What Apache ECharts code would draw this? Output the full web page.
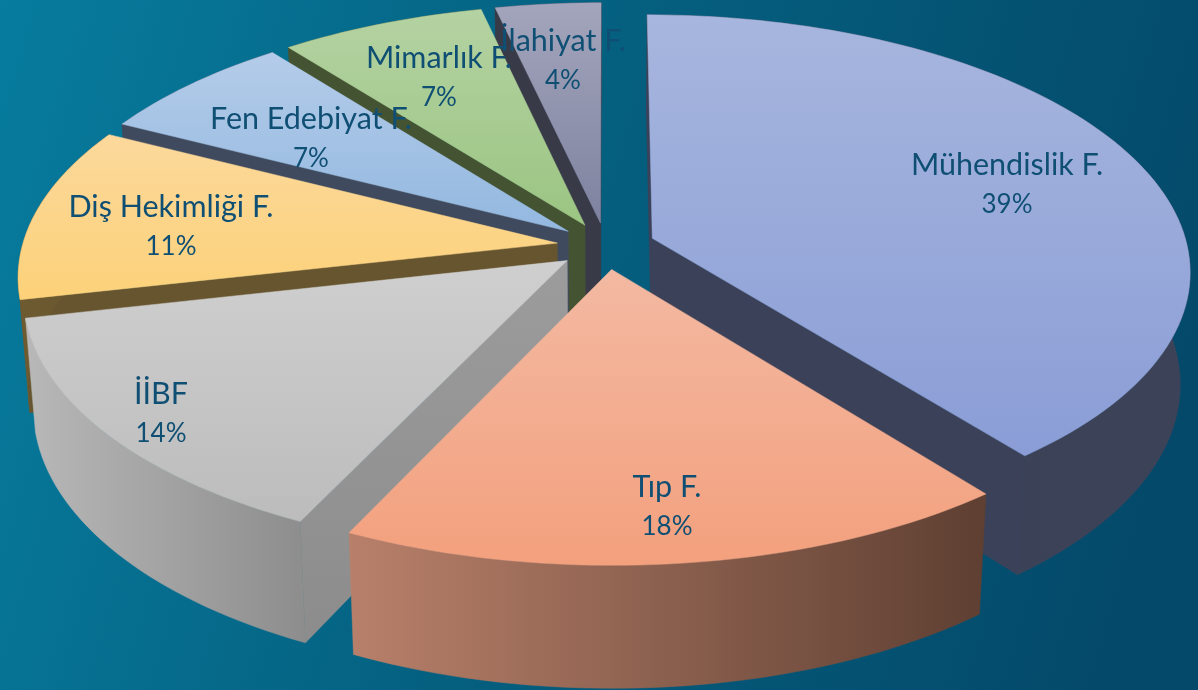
<!DOCTYPE html>
<html><head><meta charset="utf-8">
<script src="https://cdn.jsdelivr.net/npm/echarts@6/dist/echarts.min.js"></script>
<style>html,body{margin:0;padding:0;background:#055f7f}#c{width:1198px;height:690px}</style>
</head><body><div id="c"></div>
<script>
const faculties = ['Mühendislik F.','Tıp F.','İİBF','Diş Hekimliği F.','Fen Edebiyat F.','Mimarlık F.','İlahiyat F.'];
const shares = [39.3,17.8,14.4,11,6.9,7,3.6];
const drawOrder = [6,5,4,3,0,2,1];
const labelPlace = [[1007,185],[667,507],[161,414],[171,227],[311,139],[439,78],[563,61]];
const topColors = [['#a7b6de','#8a9dd6'],['#f3b9a2','#f3a07d'],['#cfcfcf','#bcbcbc'],['#fcd99c','#fcd179'],['#b4cce9','#93b8e0'],['#b4d2a2','#9bc582'],['#a3a5bc','#7f829f']];
const outerColors = [['#3a4158','#3c4358'],['#b8806a','#5e3f32'],['#b8b8b8','#8d8d8d'],['#6e5b30','#665430'],['#3f4a5e','#3f4a5e'],['#445433','#445433'],['#393a48','#393a48']];
const radialColors = [['#3a4158','#3a4158'],['#6b4a38','#6b4a38'],['#9c9c9c','#8c8c8c'],['#67552f','#67552f'],['#3f4a5e','#3f4a5e'],['#445433','#445433'],['#393a48','#393a48']];

const scene = {cx:606, cy:246, rx:535, ry:253, persp:0.124, explode:0.092, lowerScale:0.983, depth:111};
const total = shares.reduce((a,b)=>a+b,0);
const rad = d => d*Math.PI/180;
function startOf(i){let s=0;for(let k=0;k<i;k++)s+=shares[k];return s/total*360;}
function project(X,V,lower){
  const f=1/(1-scene.persp*V);
  const x=scene.rx*X*f, y=scene.ry*V*f;
  return lower ? [scene.cx+x*scene.lowerScale, scene.cy+y*scene.lowerScale+scene.depth*f] : [scene.cx+x, scene.cy+y];
}
function grad(x2,y2,c){return new echarts.graphic.LinearGradient(0,0,x2,y2,[{offset:0,color:c[0]},{offset:1,color:c[1]}]);}

function renderSlice(params,api){
  const i=api.value(1), a0=startOf(i), a1=a0+api.value(0)/total*360, mid=rad((a0+a1)/2);
  const ex=scene.explode*Math.sin(mid), ev=-scene.explode*Math.cos(mid);
  const rim=(deg,lower)=>project(ex+Math.sin(rad(deg)),ev-Math.cos(rad(deg)),lower);
  const apex=project(ex,ev,false), apexL=project(ex,ev,true);
  const arcT=[],arcB=[];
  for(let d=a0;;d+=1.5){const t=Math.min(d,a1);arcT.push(rim(t,false));arcB.push(rim(t,true));if(t>=a1)break;}
  const poly=(pts,fill)=>({type:'polygon',silent:true,shape:{points:pts},style:{fill,stroke:fill,lineWidth:0.5}});
  const children=[];
  // a cut face shows only when the slice does not lie over it on screen
  if(rim(a0,false)[0]<apex[0]) children.push(poly([apex,rim(a0,false),rim(a0,true),apexL],grad(0,1,radialColors[i])));
  if(rim(a1,false)[0]>apex[0]) children.push(poly([apex,rim(a1,false),rim(a1,true),apexL],grad(0,1,radialColors[i])));
  children.push(poly(arcT.concat(arcB.slice().reverse()),grad(1,0,outerColors[i])));
  children.push(poly([apex].concat(arcT),grad(0,1,topColors[i])));
  return {type:'group',children:children.map((c,k)=>Object.assign(c,{z2:(drawOrder.indexOf(i)+1)*10+k}))};
}
function renderLabel(params,api){
  const i=api.value(1);
  return {type:'text',z2:500,silent:true,x:labelPlace[i][0],y:labelPlace[i][1],
    style:{text:'{n|'+faculties[i]+'}\n{p|'+Math.round(api.value(0))+'%}',fill:'#0f4f73',align:'center',verticalAlign:'middle',
      rich:{n:{font:'30.5px Lato',fill:'#0f4f73',lineHeight:40},p:{font:'26px Lato',fill:'#0f4f73',lineHeight:40}}}};
}
const sliceData=drawOrder.map(i=>({name:faculties[i],value:[shares[i],i]}));
const chart=echarts.init(document.getElementById('c'),null,{renderer:'canvas'});
chart.setOption({
  animation:false,
  backgroundColor:new echarts.graphic.LinearGradient(0,0,1,0.5,[{offset:0,color:'#077c9e'},{offset:0.5,color:'#055f7f'},{offset:1,color:'#04496a'}]),
  series:[
    {type:'custom',coordinateSystem:'none',renderItem:renderSlice,data:sliceData,z:2,clip:false},
    {type:'custom',coordinateSystem:'none',renderItem:renderLabel,data:sliceData,z:3,clip:false}
  ]
});
</script></body></html>
